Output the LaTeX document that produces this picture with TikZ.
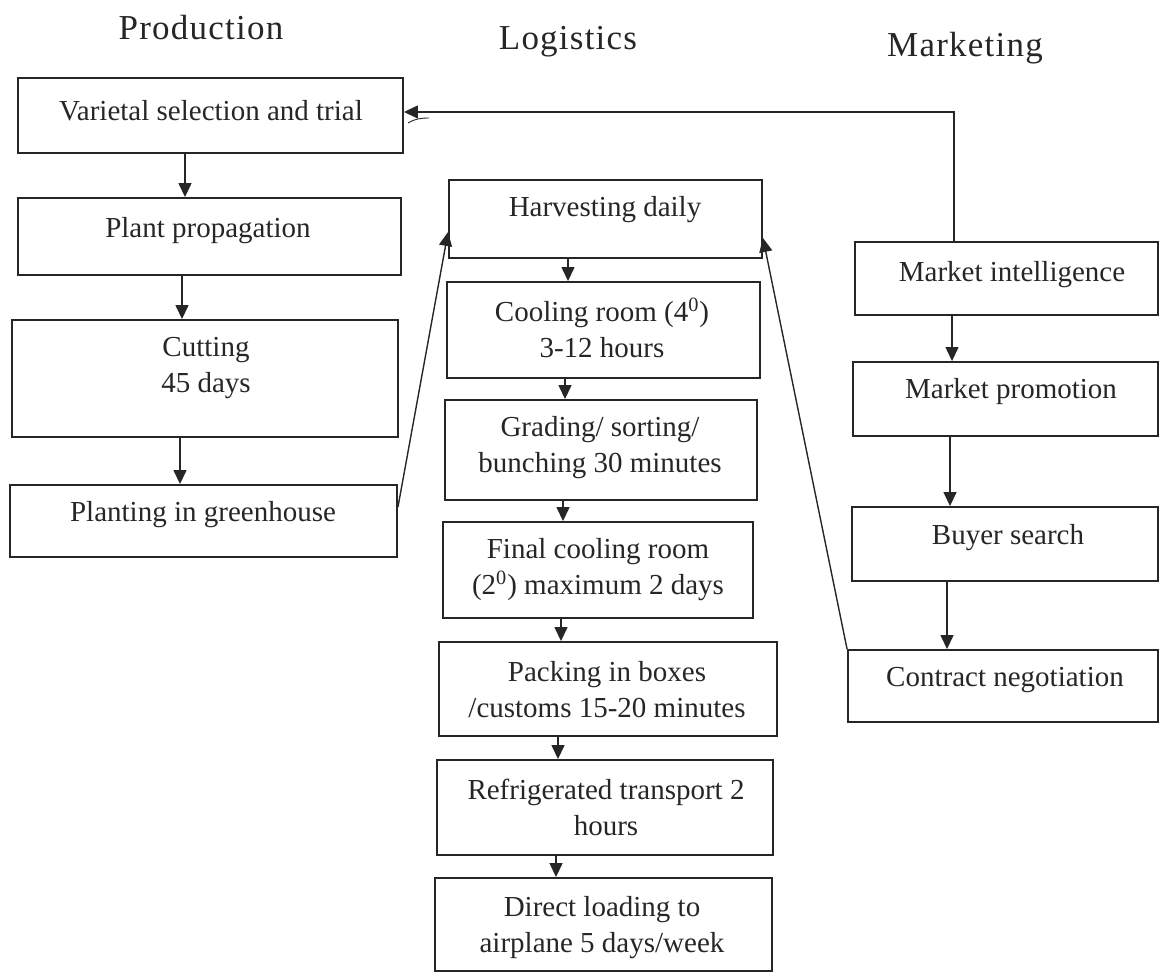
\documentclass[tikz,border=0pt]{standalone}
\usepackage{fontspec}
\setmainfont{Liberation Serif}
\newfontfamily\headfont[LetterSpace=3.5]{Liberation Serif}
\usetikzlibrary{arrows.meta}
\definecolor{ink}{HTML}{262626}
\begin{document}
\begin{tikzpicture}[x=0.5pt,y=-0.5pt,
  box/.style={draw=ink, line width=0.95pt, rectangle, inner sep=0pt},
  txt/.style={font=\fontsize{14.5}{18}\selectfont, align=center, text=ink, inner sep=0pt},
  head/.style={font=\headfont\fontsize{17.5}{20}\selectfont, anchor=base, text=ink, inner sep=0pt},
  flow/.style={draw=ink, line width=0.7pt, -{Triangle[length=7pt,width=6.5pt]}}]
\useasboundingbox (0,0) rectangle (1160,974);

% column headings
\node[head] (h-prod) at (201,40) {Production};
\node[head] (h-log)  at (568,50) {Logistics};
\node[head] (h-mkt)  at (965,57) {Marketing};

% production column
\node[box, minimum width=192.5pt, minimum height=37.5pt] (var)   at (210.5,115.5) {};
\node[box, minimum width=191.5pt, minimum height=38.5pt] (prop)  at (209.5,236.5) {};
\node[box, minimum width=193pt,   minimum height=58.5pt] (cut)   at (205,378.5) {};
\node[box, minimum width=193.5pt, minimum height=36pt]   (plant) at (203.5,521) {};
\node[txt] (var-t)   at (211,111) {Varietal selection and trial};
\node[txt] (prop-t)  at (208,231) {Plant propagation};
\node[txt] (cut-t)   at (206,368) {Cutting\\45 days};
\node[txt] (plant-t) at (203,515) {Planting in greenhouse};

% logistics column
\node[box, minimum width=156.5pt, minimum height=39pt]   (harv)   at (605.5,219) {};
\node[box, minimum width=156.5pt, minimum height=48pt]   (cool)   at (603.5,330) {};
\node[box, minimum width=156pt,   minimum height=50pt]   (grade)  at (601,450) {};
\node[box, minimum width=155pt,   minimum height=48pt]   (final)  at (598,570) {};
\node[box, minimum width=169pt,   minimum height=47pt]   (pack)   at (608,689) {};
\node[box, minimum width=168pt,   minimum height=47.5pt] (refr)   at (605,807.5) {};
\node[box, minimum width=168.5pt, minimum height=46.5pt] (direct) at (603.5,924.5) {};
\node[txt] (harv-t)   at (605,210) {Harvesting daily};
\node[txt] (cool-t)   at (602,328) {Cooling room (4\textsuperscript{0})\\3-12 hours};
\node[txt] (grade-t)  at (600,448) {Grading/ sorting/\\bunching 30 minutes};
\node[txt] (final-t)  at (598,570) {Final cooling room\\(2\textsuperscript{0}) maximum 2 days};
\node[txt] (pack-t)   at (607,690) {Packing in boxes\\/customs 15-20 minutes};
\node[txt] (refr-t)   at (606,807) {Refrigerated transport 2\\hours};
\node[txt] (direct-t) at (602,928) {Direct loading to\\airplane 5 days/week};

% marketing column
\node[box, minimum width=151.5pt, minimum height=36.5pt] (intel)    at (1006.5,278.5) {};
\node[box, minimum width=152.5pt, minimum height=37pt]   (promo)    at (1005.5,399) {};
\node[box, minimum width=153pt,   minimum height=37pt]   (buyer)    at (1005,544) {};
\node[box, minimum width=155pt,   minimum height=36pt]   (contract) at (1003,686) {};
\node[txt] (intel-t)    at (1012,275) {Market intelligence};
\node[txt] (promo-t)    at (1011,392) {Market promotion};
\node[txt] (buyer-t)    at (1008,538) {Buyer search};
\node[txt] (contract-t) at (1005,680) {Contract negotiation};

% vertical flows
\draw[flow] (185,0 |- var.south)   -- (185,0 |- prop.north);
\draw[flow] (182,0 |- prop.south)  -- (182,0 |- cut.north);
\draw[flow] (180,0 |- cut.south)   -- (180,0 |- plant.north);

\draw[flow] (568,0 |- harv.south)  -- (568,0 |- cool.north);
\draw[flow] (565,0 |- cool.south)  -- (565,0 |- grade.north);
\draw[flow] (563,0 |- grade.south) -- (563,0 |- final.north);
\draw[flow] (561,0 |- final.south) -- (561,0 |- pack.north);
\draw[flow] (558,0 |- pack.south)  -- (558,0 |- refr.north);
\draw[flow] (556,0 |- refr.south)  -- (556,0 |- direct.north);

\draw[flow] (952,0 |- intel.south) -- (952,0 |- promo.north);
\draw[flow] (950,0 |- promo.south) -- (950,0 |- buyer.north);
\draw[flow] (947,0 |- buyer.south) -- (947,0 |- contract.north);

% cross-column links
\draw[flow] (plant.east |- 0,507) -- (harv.west |- 0,232);
\draw[flow] (contract.north west) -- (harv.east |- 0,238);
\coordinate (fb) at (954,112);
\draw[flow] (intel.north -| fb) -- (fb) -- (var.east |- fb);

% small pen stroke under the feedback arrowhead
\draw[ink, line width=0.45pt] (408,123) .. controls (414,119) and (421,118) .. (429,118);
\end{tikzpicture}
\end{document}
